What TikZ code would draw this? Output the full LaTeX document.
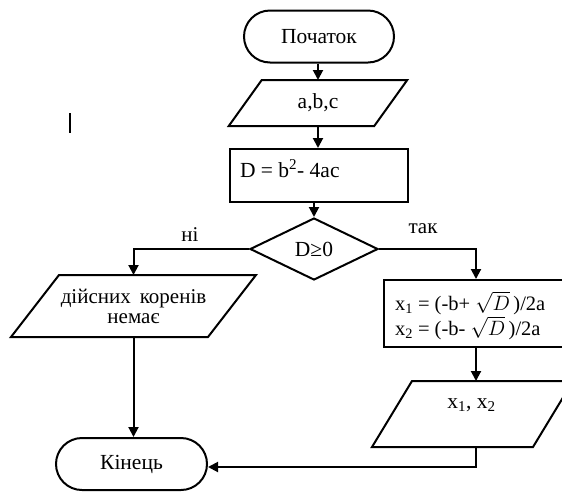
\documentclass[tikz,border=0pt]{standalone}
\usepackage{fontspec}
\setmainfont{Liberation Serif}
\usetikzlibrary{shapes.geometric,arrows.meta,calc}
\newcommand\iobox[2]{%
  \draw ([xshift=-#2pt]#1.south west) -- ([xshift=-#2pt]#1.south east)
     -- ([xshift=#2pt]#1.north east) -- ([xshift=#2pt]#1.north west) -- cycle;}
\begin{document}
\begin{tikzpicture}[x=1pt,y=-1pt,line width=2pt,
  every node/.style={font=\fontsize{21.5}{23}\selectfont,inner sep=0pt},
  term/.style={draw,rectangle,rounded corners=26pt,minimum width=#1,minimum height=52pt},
  boxnode/.style={draw,rectangle},
  ionode/.style={rectangle},
  cond/.style={draw,diamond,minimum width=128pt,minimum height=62pt},
  lbl/.style={font=\fontsize{21}{23}\selectfont},
  arr/.style={-{Triangle[length=10pt,width=10pt]}}]
\useasboundingbox (0,0) rectangle (562,491);
\clip (0,0) rectangle (562,491);

% stray cursor bar
\draw[line width=2.5pt] (70,113) -- (70,133);

\node[term=150pt] (start) at (319,36.5) {Початок};

\node[ionode,minimum width=143.5pt,minimum height=44pt] (abc) at (318,103) {a,b,c};
\iobox{abc}{16.5}

\node[boxnode,minimum width=178pt,minimum height=53pt] (calc) at (319,175.5) {};
\node[anchor=west] (calctext) at ([xshift=10pt,yshift=7pt]calc.west) {D = b\textsuperscript{2}- 4ac};

\node[cond] (dec) at (314,249) {D≥0\hspace{14pt}};

\node[lbl] (nolbl) at (190,235) {ні};
\node[lbl] (yeslbl) at (423,229) {так};

\node[ionode,minimum width=195pt,minimum height=60pt,align=center,
      font=\fontsize{21}{20}\selectfont] (no) at (133.5,306)
      {дійсних\hspace{9pt}коренів\\немає};
\iobox{no}{24}

\node[boxnode,minimum width=184pt,minimum height=67pt] (yes) at (476,313.5) {};
\node[anchor=west,align=left,font=\fontsize{20.5}{25}\selectfont] (yestext) at ([xshift=11pt,yshift=-2pt]yes.west)
  {x\textsubscript{1} = (-b+ $\sqrt{D}$\,)/2a\\x\textsubscript{2} = (-b- $\sqrt{D}$\,)/2a};

\node[ionode,minimum width=159pt,minimum height=64pt] (out) at (472.5,414) {};
\iobox{out}{20}
\node (outtext) at ([xshift=-1pt,yshift=9pt]out.center) {x\textsubscript{1}, x\textsubscript{2}};

\node[term=151pt] (end) at (131.5,464) {Кінець};

% connectors
\draw[arr] (abc.north |- start.south) -- (abc.north);
\draw[arr] (abc.south) -- (abc.south |- calc.north);
\draw[arr] (dec.north |- calc.south) -- (dec.north);
\draw[arr] (dec.west) -| (no.north);
\draw[arr] (dec.east) -| (yes.north);
\draw[arr] (yes.south) -- (yes.south |- out.north);
\draw[arr] (no.south) -- (no.south |- end.north);
\coordinate (turn) at ($(yes.south |- out.south)+(0,20)$);
\draw[arr] (yes.south |- out.south) -- (turn) -- (turn -| end.east);
\end{tikzpicture}
\end{document}
